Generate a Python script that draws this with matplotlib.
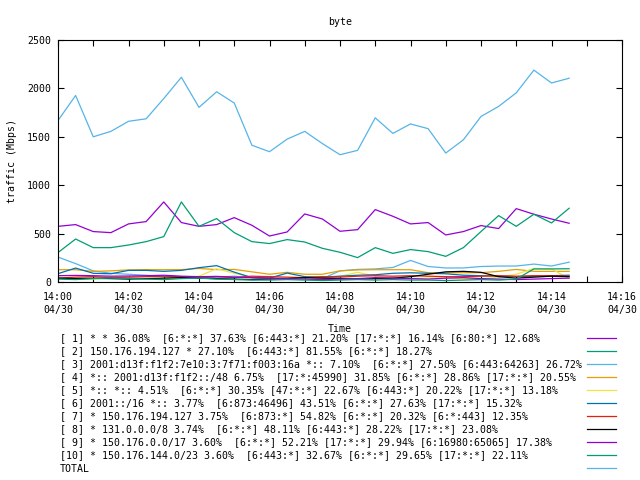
import matplotlib
matplotlib.use("Agg")
import matplotlib.pyplot as plt
import matplotlib.dates as mdates
import pandas as pd

# 30-second samples, 14:00:00 .. 14:14:30
times = pd.date_range("2024-04-30 14:00:00", periods=30, freq="30s")

s1 = [575, 593, 521, 510, 600, 624, 827, 614, 575, 593, 665, 586, 475, 517, 703,
      651, 524, 541, 748, 679, 600, 614, 486, 521, 583, 552, 758, 700, 651, 607]
s2 = [304, 444, 355, 355, 382, 417, 469, 827, 575, 655, 510, 417, 397, 438, 413,
      348, 307, 252, 355, 296, 335, 314, 265, 355, 521, 686, 575, 700, 610, 762]
s3 = [257, 190, 115, 90, 80, 70, 55, 45, 40, 50, 60, 45, 40, 30, 25,
      35, 115, 130, 135, 150, 223, 160, 145, 145, 160, 165, 165, 185, 165, 205]
s4 = [127, 127, 110, 115, 125, 128, 127, 128, 140, 128, 130, 105, 80, 100, 80,
      80, 115, 125, 127, 127, 127, 96, 96, 96, 96, 110, 130, 110, 110, 110]
s5 = [40, 30, 30, 40, 45, 35, 30, 40, 60, 137, 90, 50, 35, 30, 25,
      35, 60, 100, 60, 40, 35, 40, 40, 35, 30, 50, 80, 140, 135, 35]
s6 = [86, 144, 90, 85, 120, 120, 110, 120, 148, 169, 102, 45, 40, 92, 55,
      50, 60, 70, 75, 90, 95, 90, 85, 70, 65, 60, 55, 60, 65, 70]
s7 = [40, 50, 55, 45, 50, 55, 60, 55, 50, 55, 45, 60, 55, 50, 45,
      55, 50, 60, 65, 60, 65, 60, 55, 55, 60, 65, 60, 65, 65, 60]
s8 = [40, 35, 38, 35, 30, 35, 40, 45, 40, 35, 30, 25, 30, 35, 45,
      40, 35, 30, 35, 40, 55, 80, 105, 110, 100, 55, 40, 50, 60, 55]
s9 = [65, 68, 65, 60, 62, 65, 70, 60, 55, 58, 50, 45, 40, 35, 30,
      25, 30, 35, 45, 40, 35, 30, 40, 45, 35, 30, 25, 30, 35, 40]
s10 = [30, 25, 35, 40, 35, 30, 25, 35, 40, 30, 25, 20, 20, 25, 20,
       15, 20, 25, 20, 25, 20, 20, 15, 20, 25, 20, 30, 135, 135, 137]
total = [1668, 1927, 1500, 1556, 1660, 1686, 1895, 2115, 1804, 1965, 1849, 1413, 1346, 1476, 1556,
         1430, 1315, 1360, 1696, 1535, 1633, 1584, 1332, 1469, 1710, 1814, 1954, 2189, 2056, 2105]

labels = [
    "[ 1] * * 36.08%  [6:*:*] 37.63% [6:443:*] 21.20% [17:*:*] 16.14% [6:80:*] 12.68%",
    "[ 2] 150.176.194.127 * 27.10%  [6:443:*] 81.55% [6:*:*] 18.27%",
    "[ 3] 2001:d13f:f1f2:7e10:3:7f71:f003:16a *:: 7.10%  [6:*:*] 27.50% [6:443:64263] 26.72%",
    "[ 4] *:: 2001:d13f:f1f2::/48 6.75%  [17:*:45990] 31.85% [6:*:*] 28.86% [17:*:*] 20.55%",
    "[ 5] *:: *:: 4.51%  [6:*:*] 30.35% [47:*:*] 22.67% [6:443:*] 20.22% [17:*:*] 13.18%",
    "[ 6] 2001::/16 *:: 3.77%  [6:873:46496] 43.51% [6:*:*] 27.63% [17:*:*] 15.32%",
    "[ 7] * 150.176.194.127 3.75%  [6:873:*] 54.82% [6:*:*] 20.32% [6:*:443] 12.35%",
    "[ 8] * 131.0.0.0/8 3.74%  [6:*:*] 48.11% [6:443:*] 28.22% [17:*:*] 23.08%",
    "[ 9] * 150.176.0.0/17 3.60%  [6:*:*] 52.21% [17:*:*] 29.94% [6:16980:65065] 17.38%",
    "[10] * 150.176.144.0/23 3.60%  [6:443:*] 32.67% [6:*:*] 29.65% [17:*:*] 22.11%",
    "TOTAL",
]
series = [s1, s2, s3, s4, s5, s6, s7, s8, s9, s10, total]
colors = ["#9400d3", "#009e73", "#56b4e9", "#e69f00", "#f0e442",
          "#0072b2", "#e51e10", "#000000", "#9400d3", "#009e73", "#56b4e9"]

FONT = "DejaVu Sans Mono"
FS = 7.1
plt.rcParams["font.family"] = FONT
plt.rcParams["font.size"] = FS

fig = plt.figure(figsize=(6.4, 4.8), dpi=100)
ax = fig.add_axes([58 / 640, 1 - 282 / 480, 564 / 640, 242 / 480])

lines = []
for vals, col in zip(series, colors):
    ln, = ax.plot(times, vals, color=col, lw=0.9)
    lines.append(ln)

ax.set_xlim(pd.Timestamp("2024-04-30 14:00"), pd.Timestamp("2024-04-30 14:16"))
ax.set_ylim(0, 2500)
ax.set_yticks(range(0, 2501, 500))
ax.xaxis.set_major_locator(mdates.MinuteLocator(byminute=range(0, 60, 2)))
ax.xaxis.set_minor_locator(mdates.MinuteLocator())
ax.xaxis.set_major_formatter(mdates.DateFormatter("%H:%M\n%m/%d"))
ax.tick_params(which="both", direction="in", top=True, right=True,
               length=4, width=0.8, labelsize=FS)
ax.tick_params(axis="x", pad=7)
ax.tick_params(axis="y", pad=5)
for sp in ax.spines.values():
    sp.set_linewidth(0.8)
for lbl in ax.get_xticklabels():
    lbl.set_linespacing(1.45)

ax.set_title("byte", fontsize=FS, pad=11)
ax.set_xlabel("Time", fontsize=FS, labelpad=6)
ax.set_ylabel("traffic (Mbps)", fontsize=FS, labelpad=7)

# gnuplot-style key: text column on the left, line samples on the right
top = 1 - 333 / 480
leg_text = fig.legend(lines, labels, loc="upper left", bbox_to_anchor=(60 / 640, top),
                      bbox_transform=fig.transFigure, frameon=False, borderpad=0,
                      borderaxespad=0, handlelength=0, handletextpad=0,
                      labelspacing=0.31, fontsize=FS)
leg_lines = fig.legend(lines, [""] * len(lines), loc="upper left",
                       bbox_to_anchor=(587 / 640, top), bbox_transform=fig.transFigure,
                       frameon=False, borderpad=0, borderaxespad=0, handlelength=2.9,
                       handletextpad=0, labelspacing=0.31, fontsize=FS)

fig.savefig("out.png", dpi=100)
